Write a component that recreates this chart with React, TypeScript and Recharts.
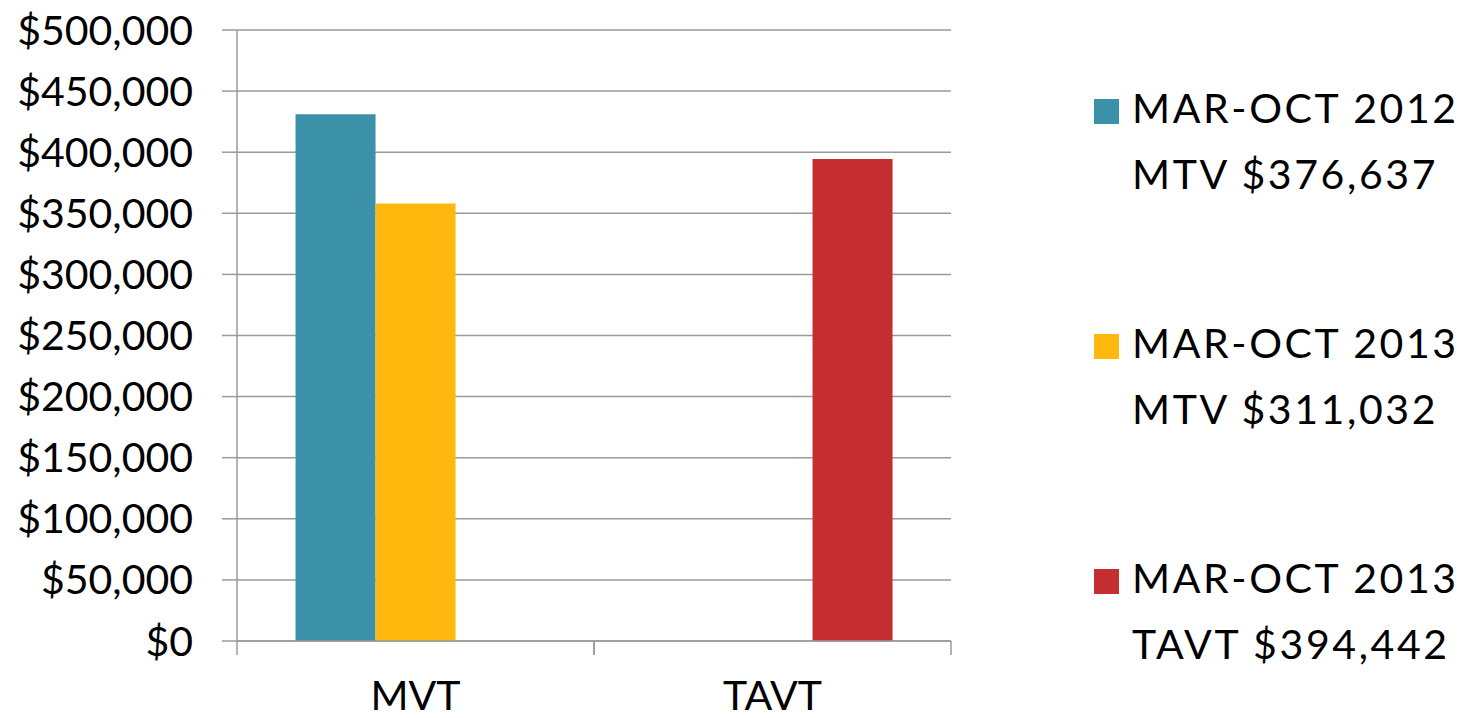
import React from 'react';
import { BarChart, Bar, XAxis, YAxis, CartesianGrid, Legend } from 'recharts';

const categories = ['MVT', 'TAVT'];
const mtv2012 = [431000, null];
const mtv2013 = [358000, null];
const tavt2013 = [null, 394442];
const yTicks = [0, 50000, 100000, 150000, 200000, 250000, 300000, 350000, 400000, 450000, 500000];
const seriesNames = ['MAR-OCT 2012 MTV $376,637', 'MAR-OCT 2013 MTV $311,032', 'MAR-OCT 2013 TAVT $394,442'];
const seriesLine1 = ['MAR-OCT 2012', 'MAR-OCT 2013', 'MAR-OCT 2013'];
const seriesLine2 = ['MTV $376,637', 'MTV $311,032', 'TAVT $394,442'];
const colors = ['#3A91A8', '#FFB80E', '#C42E30'];

const data = categories.map((c, i) => ({
  category: c,
  s0: mtv2012[i],
  s1: mtv2013[i],
  s2: tavt2013[i],
}));

const FONT = 'Lato, sans-serif';
const GRAY = '#9a9a9a';
const X_TICK_MARGIN = 40;
const X_TICK_LEN = 14;

const fmt = (v: number) => '$' + v.toLocaleString('en-US');

// Category tick: label at band centre plus Excel-style tick marks at band boundaries
const CategoryTick = (props: any) => {
  const { x, y, payload } = props;
  const half = payload && payload.offset ? payload.offset : 0;
  const axisY = y - X_TICK_MARGIN;
  return (
    <g>
      <line x1={x - half} x2={x - half} y1={axisY} y2={axisY + X_TICK_LEN} stroke={GRAY} strokeWidth={1.5} />
      <line x1={x + half} x2={x + half} y1={axisY} y2={axisY + X_TICK_LEN} stroke={GRAY} strokeWidth={1.5} />
      <text x={x} y={y} dy="0.71em" textAnchor="middle" fill="#000" fontSize={41} fontFamily={FONT}>
        {payload.value}
      </text>
    </g>
  );
};

const renderLegend = (props: any) => {
  const payload = props.payload || [];
  return (
    <div style={{ position: 'relative', width: 377, height: 718, fontFamily: FONT }}>
      {payload.map((p: any, i: number) => {
        const idx = seriesNames.indexOf(p.value);
        const k = idx >= 0 ? idx : i;
        return (
          <div key={i} style={{ position: 'absolute', left: 0, top: 75 + k * 235 }}>
            <div
              style={{
                position: 'absolute',
                left: 0,
                top: 24,
                width: 25,
                height: 25,
                background: p.color,
              }}
            />
            <div
              style={{
                position: 'absolute',
                left: 38,
                top: 0,
                fontSize: 41,
                lineHeight: '66px',
                color: '#000',
                whiteSpace: 'nowrap',
                letterSpacing: 2.6,
              }}
            >
              <div>{seriesLine1[k]}</div>
              <div>{seriesLine2[k]}</div>
            </div>
          </div>
        );
      })}
    </div>
  );
};

export default function App() {
  return (
    <div style={{ position: 'absolute', left: 0, top: 0, width: 1471, height: 718, background: '#fff' }}>
      <BarChart
        width={1471}
        height={718}
        data={data}
        margin={{ top: 30, right: 520, bottom: 0, left: 0 }}
        barCategoryGap="16.4%"
        barGap={0}
      >
        <CartesianGrid vertical={false} stroke={GRAY} strokeWidth={1.5} />
        <XAxis
          dataKey="category"
          height={77}
          tickLine={false}
          tickSize={0}
          tickMargin={X_TICK_MARGIN}
          axisLine={{ stroke: GRAY, strokeWidth: 1.5 }}
          tick={<CategoryTick />}
          interval={0}
        />
        <YAxis
          domain={[0, 500000]}
          ticks={yTicks}
          tickFormatter={fmt}
          width={237}
          tickSize={15}
          tickMargin={29}
          axisLine={{ stroke: GRAY, strokeWidth: 1.5 }}
          tickLine={{ stroke: GRAY, strokeWidth: 1.5 }}
          tick={{ fill: '#000', fontSize: 41, fontFamily: FONT, letterSpacing: 0 }}
        />
        <Legend
          layout="vertical"
          align="center"
          verticalAlign="middle"
          wrapperStyle={{ left: 1094, top: 0, width: 377, height: 718 }}
          content={renderLegend}
        />
        <Bar dataKey="s0" name={seriesNames[0]} fill={colors[0]} isAnimationActive={false} />
        <Bar dataKey="s1" name={seriesNames[1]} fill={colors[1]} isAnimationActive={false} />
        <Bar dataKey="s2" name={seriesNames[2]} fill={colors[2]} isAnimationActive={false} />
      </BarChart>
    </div>
  );
}
